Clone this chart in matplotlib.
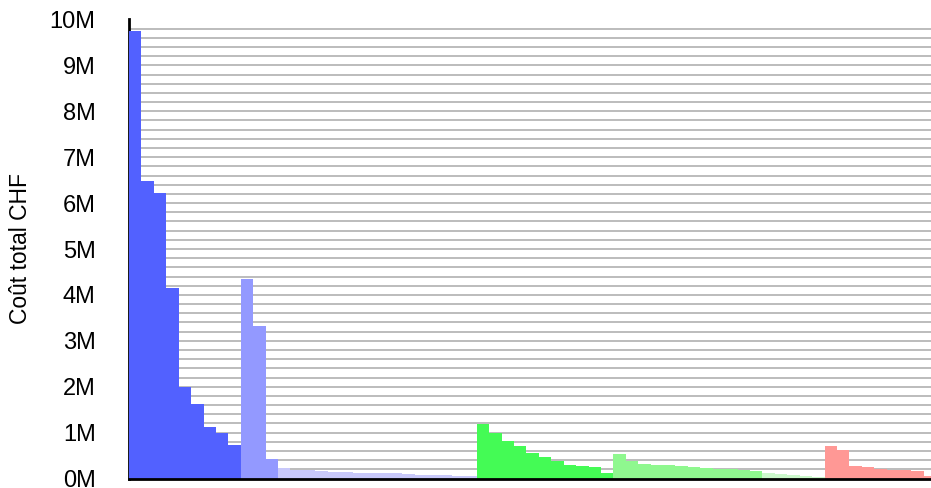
import matplotlib
matplotlib.use("Agg")
import matplotlib.pyplot as plt
import numpy as np

plt.rcParams['font.family'] = ['Liberation Sans', 'DejaVu Sans']

# cost per item, millions CHF, grouped by colour
dark_blue = [9.74, 6.49, 6.21, 4.15, 2.0, 1.62, 1.12, 0.99, 0.73]
light_blue = [4.35, 3.33, 0.42]
lavender = [0.23, 0.185, 0.185, 0.165, 0.14, 0.14, 0.12, 0.12, 0.12, 0.12,
            0.10, 0.08, 0.08, 0.075, 0.055, 0.05]
green = [1.19, 0.99, 0.82, 0.71, 0.56, 0.47, 0.38, 0.30, 0.27, 0.25, 0.12]
light_green = [0.53, 0.38, 0.32, 0.29, 0.29, 0.27, 0.25, 0.22, 0.21, 0.21,
               0.185, 0.165]
pale_green = [0.12, 0.10, 0.075, 0.055, 0.03]
red = [0.71, 0.62, 0.27, 0.25, 0.21, 0.185, 0.185, 0.165, 0.055]

groups = [
    (dark_blue, '#5261ff'),
    (light_blue, '#9399ff'),
    (lavender, '#c8c8fa'),
    (green, '#44fb55'),
    (light_green, '#8ff88f'),
    (pale_green, '#cbf8cb'),
    (red, '#ff9895'),
]

yticks = list(range(0, 11))
ytick_labels = [f"{v}M" for v in yticks]

fig = plt.figure(figsize=(9.31, 4.88), dpi=100)
ax = fig.add_axes([129 / 931, 9.5 / 488, 802 / 931, 459 / 488])

pos = 0
for vals, col in groups:
    x = np.arange(pos, pos + len(vals))
    ax.bar(x, vals, width=1.0, color=col, linewidth=0, zorder=2)
    pos += len(vals)

ax.set_xlim(-0.5, -0.5 + 802 / 12.42)
ax.set_ylim(0, 10)

for g in np.arange(0.2, 10.01, 0.2):
    ax.axhline(g, color='#b0b0b0', linewidth=1.2, zorder=1)

ax.set_yticks(yticks)
ax.set_yticklabels(ytick_labels, fontsize=17)
ax.tick_params(axis='y', length=0, pad=24)
ax.set_xticks([])
ax.set_ylabel("Coût total CHF", fontsize=16.5, labelpad=13)

for s in ['top', 'right']:
    ax.spines[s].set_visible(False)
ax.spines['left'].set_linewidth(2)
ax.spines['bottom'].set_linewidth(2)
ax.spines['left'].set_zorder(1)

fig.savefig("out.png", dpi=100)
